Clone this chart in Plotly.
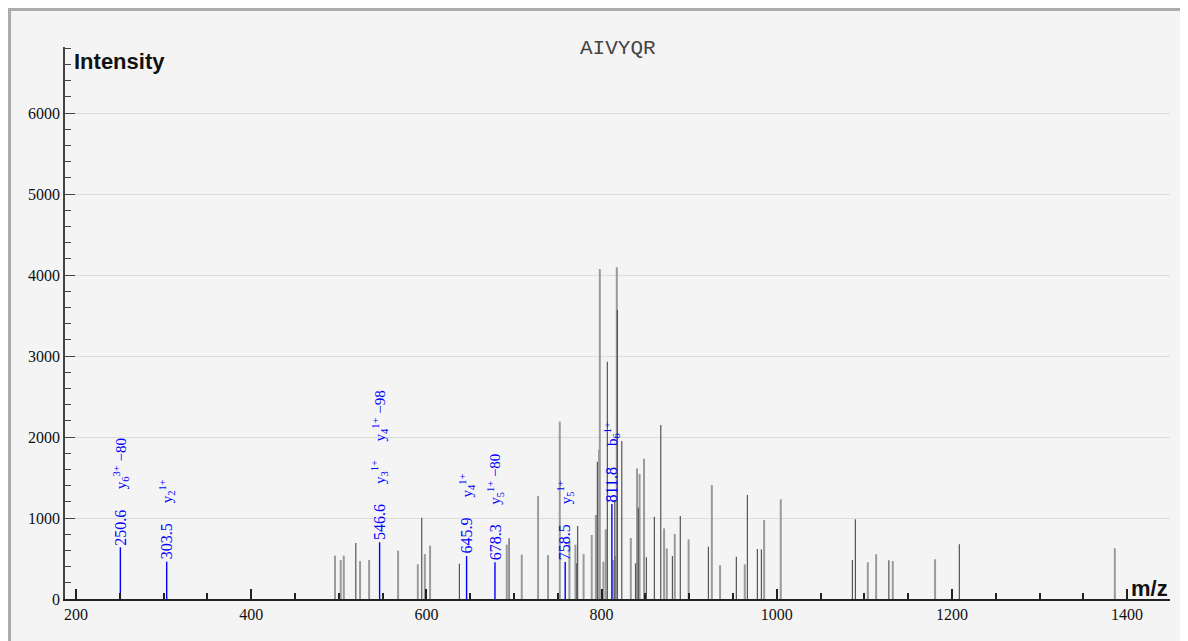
import plotly.graph_objects as go

# ----------------------
# Spectrum data (m/z, intensity)
# ----------------------

# lighter, wider peaks
light_mz = [495.7, 502.2, 505.7, 524.3, 534.6, 567.7, 590.2, 598.2, 604.2, 691.8,
            708.9, 727.5, 738.9, 752.3, 763.3, 770.2, 779.5, 788.8, 793.5, 797.2,
            798.0, 802.1, 804.8, 813.5, 816.0, 817.4, 833.4, 840.5, 843.4, 848.5,
            871.4, 874.5, 883.6, 899.4, 925.9, 935.3, 963.5, 985.6, 1004.6, 1104.0,
            1113.5, 1132.5, 1180.8, 1386.0]
light_int = [535, 481, 535, 469, 481, 597, 428, 555, 658, 671,
             547, 1272, 543, 2190, 716, 671, 555, 790, 1037, 1840,
             4074, 461, 860, 481, 531, 4095, 753, 1613, 1543, 1732,
             872, 625, 802, 737, 1407, 416, 428, 975, 1230, 453,
             552, 469, 490, 626]

# darker, thin peaks
dark_mz = [519.4, 594.7, 637.7, 694.4, 771.7, 772.7, 795.2, 806.6, 815.1, 818.1,
           823.1, 838.8, 842.0, 851.2, 860.3, 867.6, 880.9, 889.9, 922.0, 953.9,
           966.5, 977.9, 982.5, 1086.4, 1089.8, 1128.0, 1208.5]
dark_int = [691, 1004, 436, 749, 440, 901, 1695, 2930, 1222, 3568,
            1951, 440, 1128, 515, 1016, 2148, 531, 1025, 646, 523,
            1284, 617, 613, 481, 984, 477, 675]

# annotated (matched) peaks
lab_mz = [250.6, 303.5, 546.6, 645.9, 678.3, 758.5, 811.8]
lab_int = [638, 461, 700, 531, 453, 457, 1173]
lab_ions = [
    ["y<sub>6</sub><sup>3+</sup> \u221280"],
    ["y<sub>2</sub><sup>1+</sup>"],
    ["y<sub>3</sub><sup>1+</sup>", "y<sub>4</sub><sup>1+</sup> \u221298"],
    ["y<sub>4</sub><sup>1+</sup>"],
    ["y<sub>5</sub><sup>1+</sup> \u221280"],
    ["y<sub>5</sub><sup>1+</sup>"],
    ["b<sub>6</sub><sup>1+</sup>"],
]

peptide = "AIVYQR"


def sticks(mz, inten):
    xs, ys = [], []
    for m, h in zip(mz, inten):
        xs += [m, m, None]
        ys += [0, h, None]
    return xs, ys


fig = go.Figure()

x, y = sticks(light_mz, light_int)
fig.add_trace(go.Scatter(x=x, y=y, mode="lines", line=dict(color="#9a9a9a", width=2),
                         hoverinfo="skip", showlegend=False))
x, y = sticks(dark_mz, dark_int)
fig.add_trace(go.Scatter(x=x, y=y, mode="lines", line=dict(color="#555555", width=1.2),
                         hoverinfo="skip", showlegend=False))
x, y = sticks(lab_mz, lab_int)
fig.add_trace(go.Scatter(x=x, y=y, mode="lines", line=dict(color="#0000ff", width=1.4),
                         hoverinfo="skip", showlegend=False))

# peak labels: number right above the peak, ion names further up
label_font = dict(family="Liberation Serif, Times New Roman, serif", size=16, color="#0000ff")
for m, h, ions in zip(lab_mz, lab_int, lab_ions):
    fig.add_annotation(x=m, y=h, text=f"{m:.1f}", textangle=-90, showarrow=False,
                       xanchor="center", yanchor="bottom", yshift=0, font=label_font)
    for k, ion in enumerate(ions):
        fig.add_annotation(x=m, y=h, text=ion, textangle=-90, showarrow=False,
                           xanchor="center", yanchor="bottom", yshift=56 + 43 * k,
                           font=dict(label_font, size=15))

# outer frame (kept inside the svg so its edge is not clipped)
fig.add_shape(type="rect", xref="paper", yref="paper", x0=-0.0502, x1=1.0140, y0=-0.09, y1=1.0679,
              line=dict(color="#ababab", width=3), fillcolor="#f4f4f4", layer="below")

fig.add_annotation(x=0.5, y=1.0217, xref="paper", yref="paper", text=peptide, showarrow=False,
                   font=dict(family="Liberation Mono, Courier New, monospace", size=21, color="#444444"))
fig.add_annotation(x=0.006, y=0.9746, xref="paper", yref="paper", text="<b>Intensity</b>",
                   showarrow=False, xanchor="left", yanchor="middle",
                   font=dict(family="Liberation Sans, Arial, sans-serif", size=22, color="#111111"))
fig.add_annotation(x=1.0, y=0.0, xref="paper", yref="paper", text="<b>m/z</b>",
                   showarrow=False, xanchor="right", yanchor="bottom", yshift=-4,
                   font=dict(family="Liberation Sans, Arial, sans-serif", size=22, color="#111111"))

tick_font = dict(family="Liberation Serif, Times New Roman, serif", size=16, color="#111111")
fig.update_xaxes(range=[187.4, 1449], tickvals=[200, 400, 600, 800, 1000, 1200, 1400],
                 ticks="inside", ticklen=10, tickwidth=1.5, tickcolor="#222222",
                 showline=True, linecolor="#222222", linewidth=2, showgrid=False, zeroline=False,
                 tickfont=tick_font,
                 minor=dict(dtick=50, tick0=0, ticks="inside", ticklen=6, tickwidth=1.5,
                            tickcolor="#222222", showgrid=False))
fig.update_yaxes(range=[0, 6815], tickvals=[0, 1000, 2000, 3000, 4000, 5000, 6000],
                 ticks="inside", ticklen=10, tickwidth=1.2, tickcolor="#444444",
                 showline=True, linecolor="#444444", linewidth=1.5,
                 showgrid=True, gridcolor="#dcdcdc", gridwidth=1, zeroline=False,
                 tickfont=tick_font,
                 minor=dict(dtick=200, tick0=0, ticks="inside", ticklen=6, tickwidth=1.2,
                            tickcolor="#444444", showgrid=False))

# the page body adds an 8px margin, so the margins here are 8px smaller
fig.update_layout(
    width=1180, height=633,
    margin=dict(l=57, r=18, t=39, b=42),
    paper_bgcolor="white",
    plot_bgcolor="rgba(0,0,0,0)",
    showlegend=False,
)

fig.write_html("out.html")
